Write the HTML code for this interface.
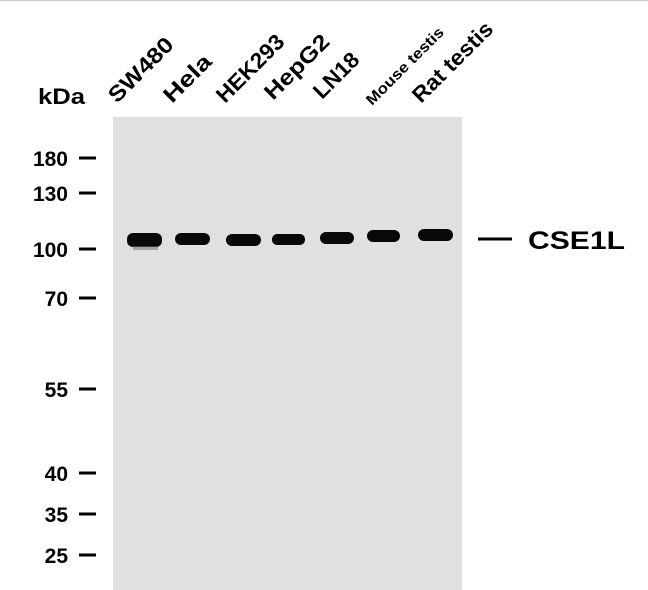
<!DOCTYPE html>
<html><head><style>
html,body{margin:0;padding:0;background:#fff;}
svg{display:block;}
text{font-family:"Liberation Sans",Arial,sans-serif;font-weight:bold;fill:#000;}
</style></head><body>
<svg width="648" height="590" viewBox="0 0 648 590">
<rect width="648" height="590" fill="#fff"/>
<rect x="0" y="0" width="648" height="1" fill="#ccc"/>
<rect x="113" y="117" width="349" height="473" fill="#e0e0e0"/>
<g>
<text x="117" y="104" font-size="22" textLength="82" lengthAdjust="spacingAndGlyphs" transform="rotate(-45 117 104)">SW480</text>
<text x="172" y="104" font-size="22" textLength="58" lengthAdjust="spacingAndGlyphs" transform="rotate(-45 172 104)">Hela</text>
<text x="225" y="104" font-size="22" textLength="86" lengthAdjust="spacingAndGlyphs" transform="rotate(-45 225 104)">HEK293</text>
<text x="273" y="101" font-size="22" textLength="82" lengthAdjust="spacingAndGlyphs" transform="rotate(-45 273 101)">HepG2</text>
<text x="322" y="100" font-size="22" textLength="55" lengthAdjust="spacingAndGlyphs" transform="rotate(-45 322 100)">LN18</text>
<text x="372" y="106" font-size="15" textLength="103" lengthAdjust="spacingAndGlyphs" transform="rotate(-45 372 106)">Mouse testis</text>
<text x="421" y="104" font-size="22" textLength="104" lengthAdjust="spacingAndGlyphs" transform="rotate(-45 421 104)">Rat testis</text>
</g>
<text x="38" y="104" font-size="22" textLength="47" lengthAdjust="spacingAndGlyphs">kDa</text>
<g font-size="21" text-anchor="end">
<text x="68" y="166">180</text>
<text x="68" y="201">130</text>
<text x="68" y="257">100</text>
<text x="68" y="306">70</text>
<text x="68" y="397">55</text>
<text x="68" y="481">40</text>
<text x="68" y="522">35</text>
<text x="68" y="563">25</text>
</g>
<g stroke="#000" stroke-width="3">
<line x1="79" y1="158" x2="96" y2="158"/>
<line x1="79" y1="193" x2="96" y2="193"/>
<line x1="79" y1="249" x2="96" y2="249"/>
<line x1="79" y1="298" x2="96" y2="298"/>
<line x1="79" y1="389" x2="96" y2="389"/>
<line x1="79" y1="473" x2="96" y2="473"/>
<line x1="79" y1="514" x2="96" y2="514"/>
<line x1="79" y1="555" x2="96" y2="555"/>
<line x1="478" y1="239" x2="512" y2="239"/>
</g>
<text x="528" y="249" font-size="25" textLength="97" lengthAdjust="spacingAndGlyphs">CSE1L</text>
<g fill="#080808">
<rect x="127" y="233" width="35" height="14" rx="6"/>
<rect x="175" y="233" width="35" height="12" rx="6"/>
<rect x="226" y="234" width="35" height="12" rx="6"/>
<rect x="272" y="234" width="33" height="11" rx="5"/>
<rect x="320" y="232" width="34" height="12" rx="6"/>
<rect x="367" y="230" width="33" height="12" rx="6"/>
<rect x="418" y="229" width="35" height="12" rx="6"/>
</g>
<rect x="133" y="246" width="25" height="4" fill="#666" opacity="0.5"/>
</svg>
</body></html>
